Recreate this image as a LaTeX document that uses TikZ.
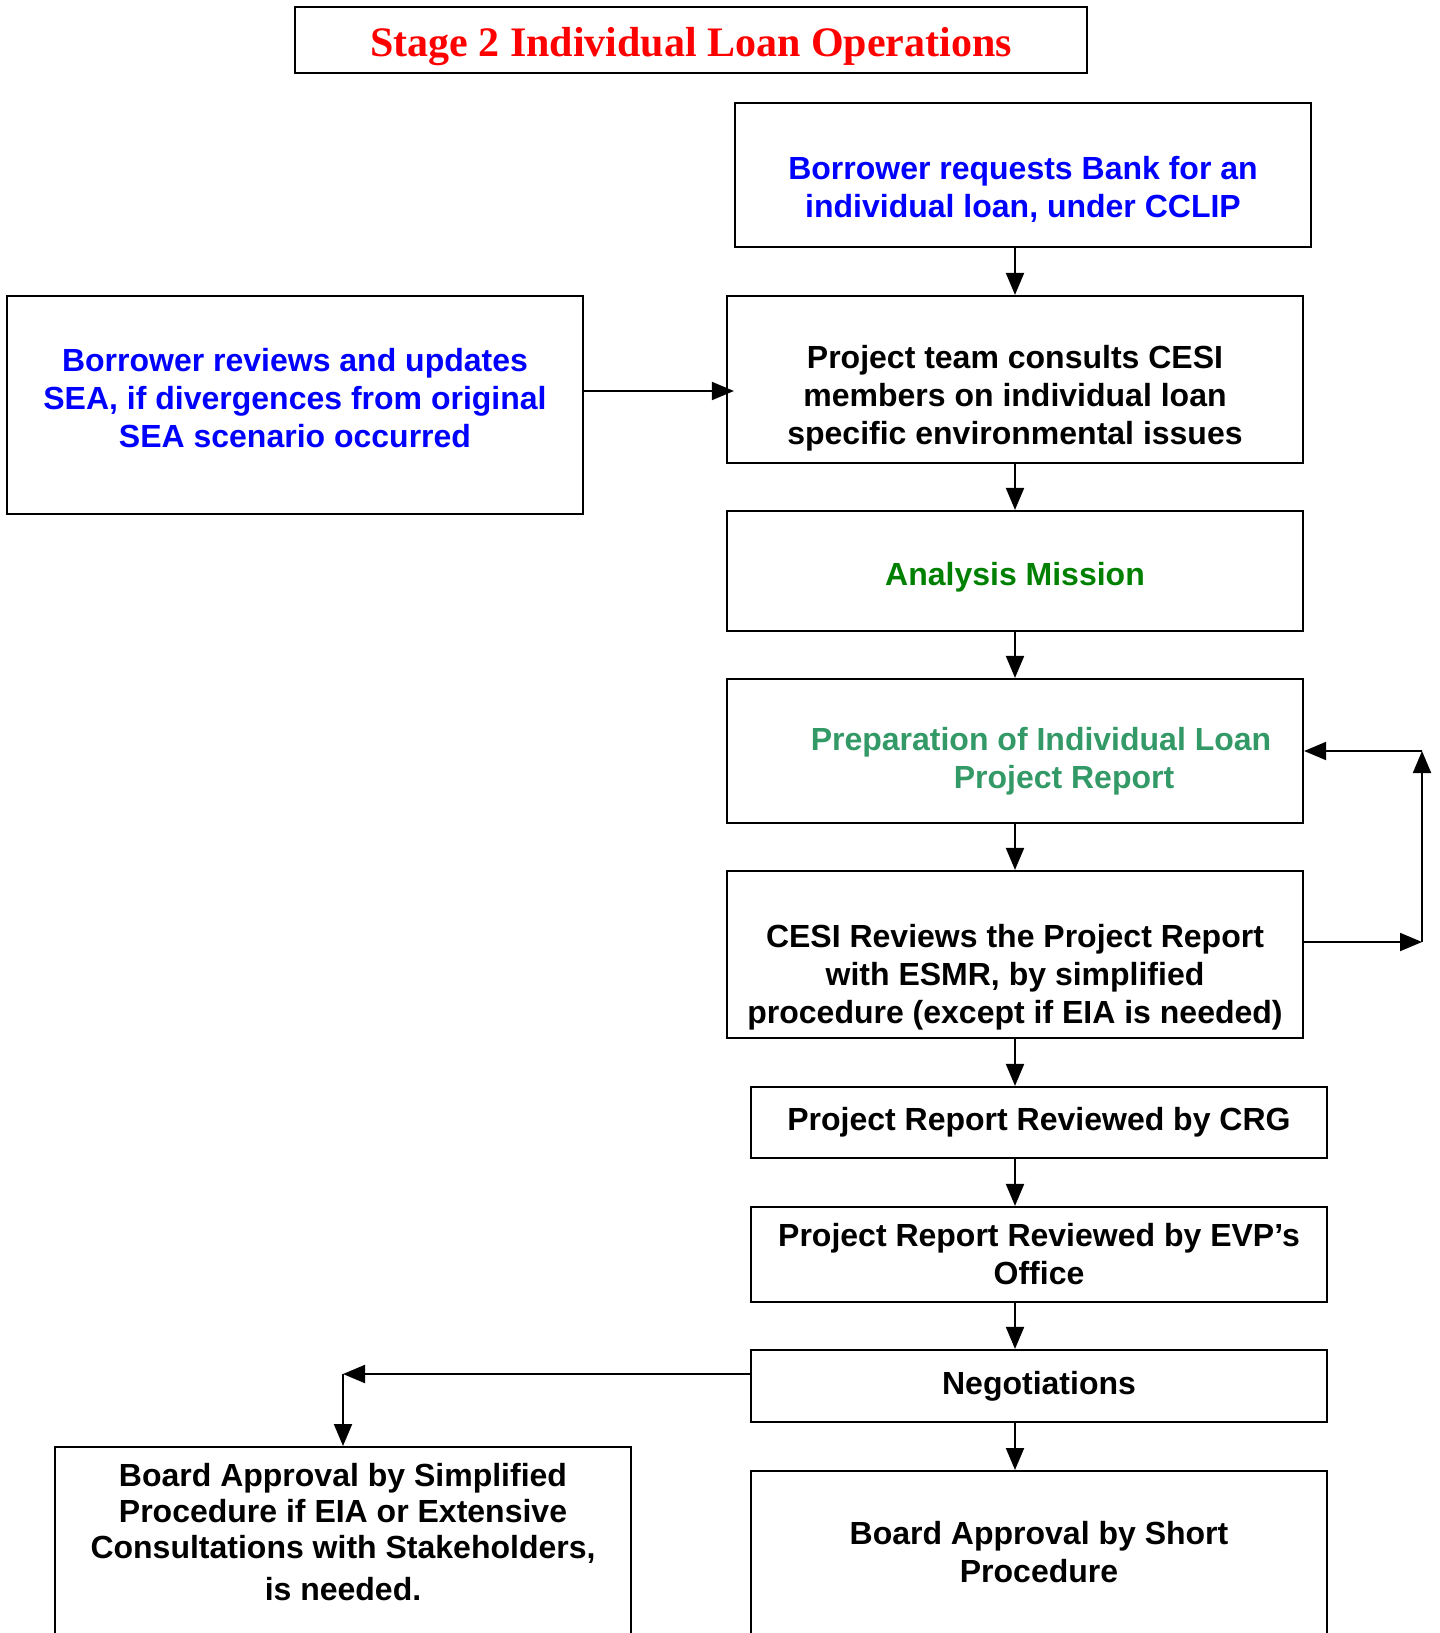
\documentclass[tikz,border=0pt]{standalone}
\usepackage{fontspec}
\setmainfont{Liberation Sans}
\newfontfamily\titlefont{Liberation Serif}
\usetikzlibrary{arrows.meta}
\definecolor{seagreen}{RGB}{51,153,102}
\definecolor{darkgreen}{RGB}{0,128,0}
\tikzset{every picture/.style={line width=1pt}}
% strut that pushes a box text down
\newcommand{\pushdown}[1]{\rule{0pt}{#1}}

\begin{document}
\begin{tikzpicture}[x=0.5pt,y=0.5pt,yscale=-1,xscale=1,
	box/.style={draw, line width=1.1pt, align=center, inner sep=0pt, minimum width=288pt, font=\fontsize{16}{19}\selectfont\bfseries},
	arr/.style={-{Triangle[length=11pt,width=9pt]}, line width=1pt}]
	\useasboundingbox (0,0) rectangle (1440,1633);
	\clip (0,0) rectangle (1440,1633);

	% Title
	\draw (691,40) node [box, minimum width=396pt, minimum height=33pt, text=red, font=\titlefont\fontsize{21}{24}\selectfont\bfseries] (title) {\pushdown{21.6pt}Stage 2 Individual Loan Operations};

	% Right column
	\draw (1023,175) node [box, minimum height=72pt, text=blue] (request) {\pushdown{26.3pt}Borrower requests Bank for an\\individual loan, under CCLIP};
	\draw (1015,379.5) node [box, minimum height=83.5pt] (consult) {\pushdown{30.4pt}Project team consults CESI\\members on individual loan\\specific environmental issues};
	\draw (1015,571) node [box, minimum height=60pt, text=darkgreen] (mission) {\pushdown{17.7pt}Analysis Mission};
	\draw (1015,751) node [box, minimum height=72pt, text=seagreen] (prep) {\pushdown{22pt}\hspace*{26pt}Preparation of Individual Loan\\\hspace*{49pt}Project Report};
	\draw (1015,954.5) node [box, minimum height=83.5pt] (cesi) {\pushdown{34.6pt}CESI Reviews the Project Report\\with ESMR, by simplified\\procedure (except if EIA is needed)};
	\draw (1039,1122.5) node [box, minimum height=35.5pt] (crg) {Project Report Reviewed by CRG};
	\draw (1039,1254.5) node [box, minimum height=47.5pt] (evp) {Project Report Reviewed by EVP’s\\Office};
	\draw (1039,1386) node [box, minimum height=36pt] (nego) {Negotiations};
	\draw (1039,1470) node [box, anchor=north, inner ysep=25pt, text depth=100pt] (short) {Board Approval by Short\\Procedure};

	% Left column
	\draw (295,405) node [box, minimum height=109pt, text=blue] (sea) {Borrower reviews and updates\\SEA, if divergences from original\\SEA scenario occurred\rule[-7.3pt]{0pt}{1pt}};
	\draw (343,1446) node [box, anchor=north, inner ysep=8pt, text depth=100pt, font=\fontsize{16}{18}\selectfont\bfseries] (simpl) {Board Approval by Simplified\\Procedure if EIA or Extensive\\Consultations with Stakeholders,\\[3pt]is needed.};

	% Helper points
	\coordinate (seaout) at ([yshift=-7pt]sea.east);
	\coordinate (loopb) at (1422,942);
	\coordinate (loopt) at (1422,751);
	\coordinate (split) at (343,1374);

	% Arrows
	\draw [arr] (request.south -| consult.north) -- (consult.north);
	\draw [arr, shorten >=-4pt] (seaout) -- (seaout -| consult.west);
	\draw [arr] (consult.south) -- (mission.north);
	\draw [arr] (mission.south) -- (prep.north);
	\draw [arr] (prep.south) -- (cesi.north);
	\draw [arr] (cesi.east |- loopb) -- (loopb);
	\draw [arr] (loopb) -- (loopt);
	\draw [arr] (loopt) -- (prep.east);
	\draw [arr] (cesi.south) -- (cesi.south |- crg.north);
	\draw [arr] (crg.south -| cesi.south) -- (evp.north -| cesi.south);
	\draw [arr] (evp.south -| cesi.south) -- (nego.north -| cesi.south);
	\draw [arr] (nego.south -| cesi.south) -- (short.north -| cesi.south);
	\draw [arr] (nego.west |- split) -- (split);
	\draw [arr] (split) -- (simpl.north);

\end{tikzpicture}
\end{document}
